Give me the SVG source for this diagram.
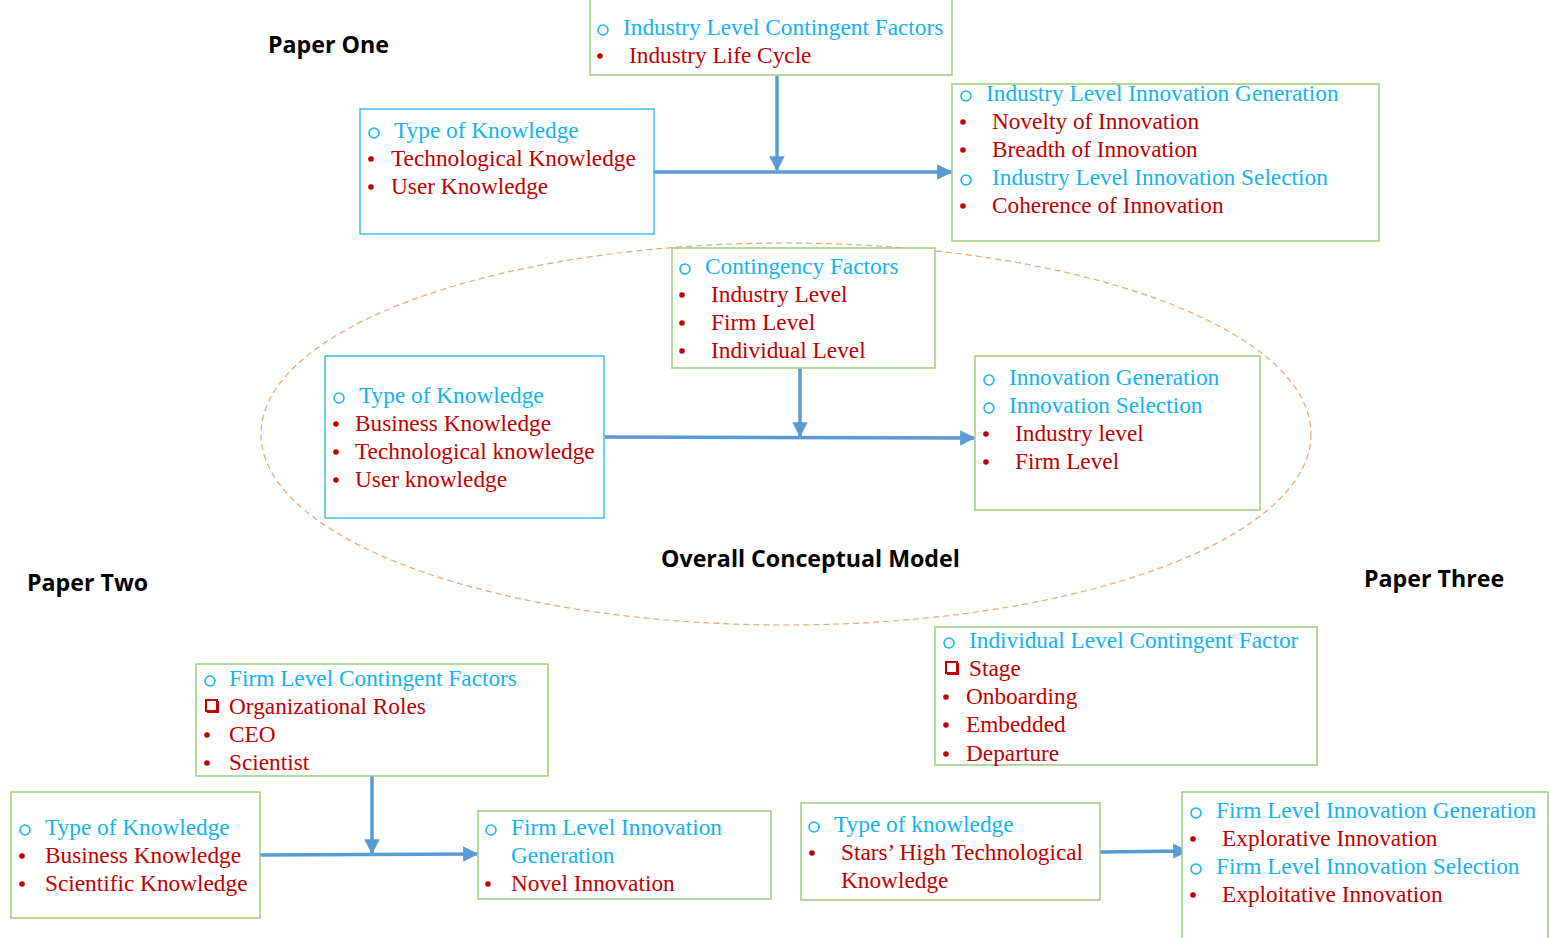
<svg xmlns="http://www.w3.org/2000/svg" xmlns:xlink="http://www.w3.org/1999/xlink" width="1551" height="938" viewBox="0 0 1551 938">
  <style>
    .box-g { fill: #ffffff; stroke: #9DCB7E; stroke-width: 1.5; }
    .box-b { fill: #ffffff; stroke: #3EC1EE; stroke-width: 1.5; }
    .t { font-family: "Liberation Serif", "Times New Roman", serif; font-size: 23.3px; }
    .blue { fill: #11B4EE; }
    .red { fill: #C00000; }
    .head { font-family: "Open Sans", "Liberation Sans", sans-serif; font-weight: bold; font-size: 23.2px; fill: #000000; }
    .conn { stroke: #5B9BD5; stroke-width: 3.5; fill: none; }
    .oval { fill: none; stroke: #F0A36E; stroke-width: 1.2; stroke-dasharray: 6 4; }
  </style>
  <defs>
    <marker id="arrow" viewBox="0 0 10 10" refX="9" refY="5" markerWidth="4.4" markerHeight="4.4" markerUnits="strokeWidth" orient="auto">
      <path d="M0,0 L10,5 L0,10 z" fill="#5B9BD5"/>
    </marker>
    <!-- list markers -->
    <circle id="ring" r="5" fill="none" stroke="#11B4EE" stroke-width="1.5"/>
    <circle id="dot" r="2.8" fill="#C00000"/>
    <g id="sq">
      <rect x="-5" y="-5" width="12" height="12" fill="#C00000"/>
      <rect x="-6" y="-6" width="11" height="11" fill="#ffffff" stroke="#C00000" stroke-width="2"/>
    </g>
  </defs>

  <!-- overall model outline -->
  <ellipse class="oval" cx="786" cy="434" rx="525" ry="191"/>

  <!-- headings -->
  <text class="head" x="268" y="53">Paper One</text>
  <text class="head" x="661" y="567">Overall Conceptual Model</text>
  <text class="head" x="27" y="591">Paper Two</text>
  <text class="head" x="1364" y="587">Paper Three</text>

  <!-- connectors -->
  <g id="connectors">
    <line class="conn" x1="777" y1="76" x2="777" y2="170" marker-end="url(#arrow)"/>
    <line class="conn" x1="654" y1="172" x2="951" y2="172" marker-end="url(#arrow)"/>
    <line class="conn" x1="800" y1="368" x2="800" y2="436" marker-end="url(#arrow)"/>
    <line class="conn" x1="605" y1="437" x2="974" y2="438" marker-end="url(#arrow)"/>
    <line class="conn" x1="372" y1="776" x2="372" y2="853" marker-end="url(#arrow)"/>
    <line class="conn" x1="260" y1="855" x2="477" y2="854" marker-end="url(#arrow)"/>
    <line class="conn" x1="1100" y1="852" x2="1187" y2="851" marker-end="url(#arrow)"/>
  </g>

  <!-- Paper One: industry level contingent factors -->
  <g id="industry-contingent">
    <rect class="box-g" x="590" y="-2" width="362" height="77"/>
    <use href="#ring" x="603" y="30"/>
    <text class="t blue" x="623" y="35">Industry Level Contingent Factors</text>
    <use href="#dot" x="600" y="56"/>
    <text class="t red" x="629" y="63">Industry Life Cycle</text>
  </g>

  <!-- Paper One: type of knowledge -->
  <g id="p1-knowledge">
    <rect class="box-b" x="360" y="109" width="294" height="125"/>
    <use href="#ring" x="374" y="133"/>
    <text class="t blue" x="394" y="138">Type of Knowledge</text>
    <use href="#dot" x="371" y="159"/>
    <text class="t red" x="391" y="166">Technological Knowledge</text>
    <use href="#dot" x="371" y="187"/>
    <text class="t red" x="391" y="194">User Knowledge</text>
  </g>

  <!-- Paper One: industry level innovation -->
  <g id="industry-innovation">
    <rect class="box-g" x="952" y="84" width="427" height="157"/>
    <use href="#ring" x="966" y="96"/>
    <text class="t blue" x="986" y="101">Industry Level Innovation Generation</text>
    <use href="#dot" x="963" y="122"/>
    <text class="t red" x="992" y="129">Novelty of Innovation</text>
    <use href="#dot" x="963" y="150"/>
    <text class="t red" x="992" y="157">Breadth of Innovation</text>
    <use href="#ring" x="966" y="180"/>
    <text class="t blue" x="992" y="185">Industry Level Innovation Selection</text>
    <use href="#dot" x="963" y="206"/>
    <text class="t red" x="992" y="213">Coherence of Innovation</text>
  </g>

  <!-- Overall model: contingency factors -->
  <g id="contingency">
    <rect class="box-g" x="672" y="248" width="263" height="120"/>
    <use href="#ring" x="685" y="269"/>
    <text class="t blue" x="705" y="274">Contingency Factors</text>
    <use href="#dot" x="682" y="295"/>
    <text class="t red" x="711" y="302">Industry Level</text>
    <use href="#dot" x="682" y="323"/>
    <text class="t red" x="711" y="330">Firm Level</text>
    <use href="#dot" x="682" y="351"/>
    <text class="t red" x="711" y="358">Individual Level</text>
  </g>

  <!-- Overall model: type of knowledge -->
  <g id="overall-knowledge">
    <rect class="box-b" x="325" y="356" width="279" height="162"/>
    <use href="#ring" x="339" y="398"/>
    <text class="t blue" x="359" y="403">Type of Knowledge</text>
    <use href="#dot" x="336" y="424"/>
    <text class="t red" x="355" y="431">Business Knowledge</text>
    <use href="#dot" x="336" y="452"/>
    <text class="t red" x="355" y="459">Technological knowledge</text>
    <use href="#dot" x="336" y="480"/>
    <text class="t red" x="355" y="487">User knowledge</text>
  </g>

  <!-- Overall model: innovation outcomes -->
  <g id="overall-innovation">
    <rect class="box-g" x="975" y="356" width="285" height="154"/>
    <use href="#ring" x="989" y="380"/>
    <text class="t blue" x="1009" y="385">Innovation Generation</text>
    <use href="#ring" x="989" y="408"/>
    <text class="t blue" x="1009" y="413">Innovation Selection</text>
    <use href="#dot" x="986" y="434"/>
    <text class="t red" x="1015" y="441">Industry level</text>
    <use href="#dot" x="986" y="462"/>
    <text class="t red" x="1015" y="469">Firm Level</text>
  </g>

  <!-- Paper Two: firm level contingent factors -->
  <g id="firm-contingent">
    <rect class="box-g" x="196" y="664" width="352" height="112"/>
    <use href="#ring" x="210" y="681"/>
    <text class="t blue" x="229" y="686">Firm Level Contingent Factors</text>
    <use href="#sq" x="212" y="706"/>
    <text class="t red" x="229" y="714">Organizational Roles</text>
    <use href="#dot" x="207" y="735"/>
    <text class="t red" x="229" y="742">CEO</text>
    <use href="#dot" x="207" y="763"/>
    <text class="t red" x="229" y="770">Scientist</text>
  </g>

  <!-- Paper Two: type of knowledge -->
  <g id="p2-knowledge">
    <rect class="box-g" x="11" y="792" width="249" height="126"/>
    <use href="#ring" x="25" y="830"/>
    <text class="t blue" x="45" y="835">Type of Knowledge</text>
    <use href="#dot" x="22" y="856"/>
    <text class="t red" x="45" y="863">Business Knowledge</text>
    <use href="#dot" x="22" y="884"/>
    <text class="t red" x="45" y="891">Scientific Knowledge</text>
  </g>

  <!-- Paper Two: firm level innovation generation -->
  <g id="firm-generation">
    <rect class="box-g" x="478" y="811" width="293" height="88"/>
    <use href="#ring" x="491" y="830"/>
    <text class="t blue" x="511" y="835">Firm Level Innovation</text>
    <text class="t blue" x="511" y="863">Generation</text>
    <use href="#dot" x="488" y="884"/>
    <text class="t red" x="511" y="891">Novel Innovation</text>
  </g>

  <!-- Paper Three: individual level contingent factor -->
  <g id="individual-contingent">
    <rect class="box-g" x="935" y="627" width="382" height="138"/>
    <use href="#ring" x="949" y="643"/>
    <text class="t blue" x="969" y="648">Individual Level Contingent Factor</text>
    <use href="#sq" x="952" y="668"/>
    <text class="t red" x="969" y="676">Stage</text>
    <use href="#dot" x="946" y="697"/>
    <text class="t red" x="966" y="704">Onboarding</text>
    <use href="#dot" x="946" y="725"/>
    <text class="t red" x="966" y="732">Embedded</text>
    <use href="#dot" x="946" y="754"/>
    <text class="t red" x="966" y="761">Departure</text>
  </g>

  <!-- Paper Three: type of knowledge -->
  <g id="p3-knowledge">
    <rect class="box-g" x="801" y="803" width="299" height="97"/>
    <use href="#ring" x="814" y="827"/>
    <text class="t blue" x="834" y="832">Type of knowledge</text>
    <use href="#dot" x="812" y="853"/>
    <text class="t red" x="841" y="860">Stars’ High Technological</text>
    <text class="t red" x="841" y="888">Knowledge</text>
  </g>

  <!-- Paper Three: firm level innovation -->
  <g id="firm-innovation">
    <rect class="box-g" x="1182" y="792" width="366" height="160"/>
    <use href="#ring" x="1196" y="813"/>
    <text class="t blue" x="1216" y="818">Firm Level Innovation Generation</text>
    <use href="#dot" x="1193" y="839"/>
    <text class="t red" x="1222" y="846">Explorative Innovation</text>
    <use href="#ring" x="1196" y="869"/>
    <text class="t blue" x="1216" y="874">Firm Level Innovation Selection</text>
    <use href="#dot" x="1193" y="895"/>
    <text class="t red" x="1222" y="902">Exploitative Innovation</text>
  </g>
</svg>
